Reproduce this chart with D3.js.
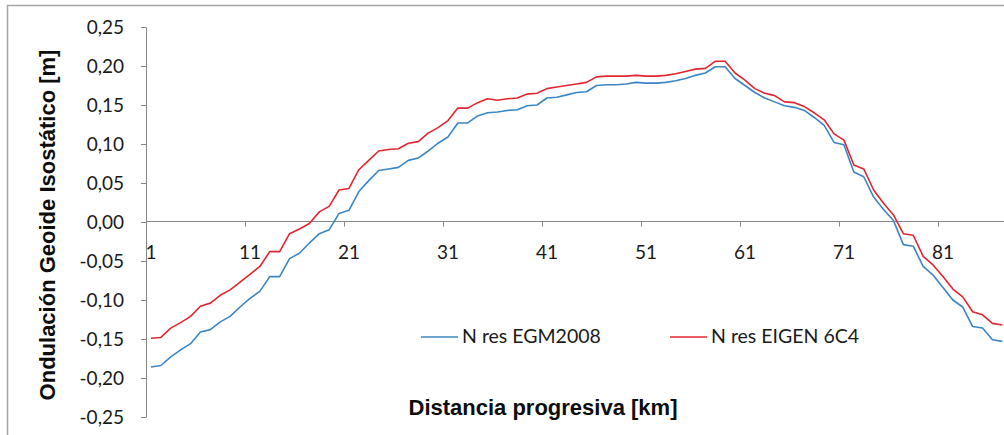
<!DOCTYPE html>
<html>
<head>
<meta charset="utf-8">
<script src="https://cdn.jsdelivr.net/npm/d3@7"></script>
<style>
  html, body { margin: 0; padding: 0; background: #fff; }
  svg { display: block; }
</style>
</head>
<body>
<svg id="chart" width="1004" height="435"></svg>
<script>
// ---- data ----
const categories = d3.range(1, 88); // distance km 1..87
const egm2008 = [
  -0.186, -0.184, -0.173, -0.164, -0.156, -0.141, -0.138, -0.128, -0.121, -0.109,
  -0.098, -0.089, -0.070, -0.070, -0.047, -0.040, -0.027, -0.015, -0.010, 0.011,
  0.015, 0.039, 0.053, 0.066, 0.068, 0.070, 0.079, 0.082, 0.091, 0.101,
  0.109, 0.127, 0.127, 0.136, 0.140, 0.141, 0.143, 0.144, 0.149, 0.150,
  0.159, 0.160, 0.163, 0.166, 0.167, 0.175, 0.176, 0.176, 0.177, 0.179,
  0.178, 0.178, 0.179, 0.181, 0.184, 0.188, 0.191, 0.199, 0.199, 0.184,
  0.175, 0.166, 0.159, 0.154, 0.149, 0.147, 0.143, 0.134, 0.124, 0.102,
  0.099, 0.064, 0.058, 0.032, 0.016, 0.002, -0.029, -0.031, -0.057, -0.068,
  -0.084, -0.100, -0.109, -0.134, -0.136, -0.151, -0.153
];
const eigen6c4 = [
  -0.149, -0.148, -0.136, -0.129, -0.121, -0.108, -0.104, -0.094, -0.087, -0.077,
  -0.067, -0.057, -0.038, -0.038, -0.015, -0.009, -0.002, 0.013, 0.020, 0.041,
  0.043, 0.067, 0.079, 0.091, 0.093, 0.094, 0.101, 0.103, 0.114, 0.121,
  0.130, 0.146, 0.146, 0.153, 0.158, 0.156, 0.158, 0.159, 0.164, 0.165,
  0.171, 0.173, 0.175, 0.177, 0.179, 0.186, 0.187, 0.187, 0.187, 0.188,
  0.187, 0.187, 0.188, 0.190, 0.193, 0.196, 0.197, 0.206, 0.206, 0.191,
  0.182, 0.171, 0.165, 0.162, 0.154, 0.153, 0.148, 0.140, 0.131, 0.113,
  0.105, 0.073, 0.068, 0.041, 0.024, 0.009, -0.015, -0.017, -0.044, -0.055,
  -0.070, -0.086, -0.096, -0.115, -0.119, -0.130, -0.132
];
const xTickLabels = ["1", "11", "21", "31", "41", "51", "61", "71", "81"];
const yTicks = [-0.25, -0.20, -0.15, -0.10, -0.05, 0, 0.05, 0.10, 0.15, 0.20, 0.25];
const seriesNames = ["N res EGM2008", "N res EIGEN 6C4"];
const seriesColors = ["#3b86c4", "#e2262f"];
const yTitle = "Ondulación Geoide Isostático [m]";
const xTitle = "Distancia progresiva [km]";

// ---- layout ----
const svg = d3.select("#chart");
const plotLeft = 146, plotTop = 27, plotBottom = 417;
const bandW = 9.9;

const x = d3.scaleBand()
  .domain(categories)
  .range([plotLeft, plotLeft + categories.length * bandW])
  .padding(0);
const y = d3.scaleLinear().domain([-0.25, 0.25]).range([plotBottom, plotTop]);

const fmt = v => d3.format(".2f")(v).replace(".", ",").replace("\u2212", "-");

// outer chart border
svg.append("rect")
  .attr("x", 7.5).attr("y", 5.5)
  .attr("width", 1010).attr("height", 440)
  .attr("fill", "none").attr("stroke", "#a6a6a6").attr("stroke-width", 1.5);

// y axis
const yAxis = d3.axisLeft(y).tickValues(yTicks).tickSize(5).tickSizeOuter(0).tickPadding(17).tickFormat(fmt);
const gy = svg.append("g").attr("transform", `translate(${plotLeft},0)`).call(yAxis);
gy.select(".domain").attr("stroke", "#868686");
gy.selectAll(".tick line").attr("stroke", "#868686");
gy.selectAll(".tick text")
  .attr("font-family", "Lato, 'Open Sans', sans-serif")
  .attr("font-size", "19px")
  .attr("fill", "#1a1a1a");

// x axis (crosses at y = 0)
const y0 = Math.round(y(0)) - 0.5;
const gx = svg.append("g");
gx.append("line")
  .attr("x1", plotLeft).attr("x2", x.range()[1])
  .attr("y1", y0).attr("y2", y0)
  .attr("stroke", "#868686");
const labelCats = categories.filter(c => xTickLabels.includes(String(c)));
gx.selectAll("line.tick").data(labelCats).join("line")
  .attr("class", "tick")
  .attr("x1", c => Math.round(x(c)) + 0.5).attr("x2", c => Math.round(x(c)) + 0.5)
  .attr("y1", y0).attr("y2", y0 + 5)
  .attr("stroke", "#868686");
gx.selectAll("text").data(labelCats).join("text")
  .attr("x", c => x(c) + x.bandwidth() / 2)
  .attr("y", y0 + 37)
  .attr("text-anchor", "middle")
  .attr("font-family", "Lato, 'Open Sans', sans-serif")
  .attr("font-size", "19px")
  .attr("fill", "#1a1a1a")
  .text(c => String(c));

// lines
const line = d3.line()
  .x((d, i) => x(categories[i]) + x.bandwidth() / 2)
  .y(d => y(d));
[egm2008, eigen6c4].forEach((s, k) => {
  svg.append("path")
    .datum(s)
    .attr("d", line)
    .attr("fill", "none")
    .attr("stroke", seriesColors[k])
    .attr("stroke-width", 1.6)
    .attr("stroke-linejoin", "round");
});

// legend
const legendX = [421, 670];
seriesNames.forEach((name, k) => {
  svg.append("line")
    .attr("x1", legendX[k]).attr("x2", legendX[k] + 37)
    .attr("y1", 337).attr("y2", 337)
    .attr("stroke", seriesColors[k]).attr("stroke-width", 1.6);
  svg.append("text")
    .attr("x", legendX[k] + 41).attr("y", 343)
    .attr("font-family", "Lato, 'Open Sans', sans-serif")
    .attr("font-size", "19.5px")
    .attr("fill", "#1a1a1a")
    .text(name);
});

// axis titles
svg.append("text")
  .attr("x", 543).attr("y", 415)
  .attr("text-anchor", "middle")
  .attr("font-family", "'Liberation Sans', Arial, sans-serif")
  .attr("font-weight", "bold")
  .attr("font-size", "22px")
  .attr("fill", "#0d0d0d")
  .text(xTitle);
svg.append("text")
  .attr("transform", "translate(55,225) rotate(-90)")
  .attr("text-anchor", "middle")
  .attr("font-family", "'Liberation Sans', Arial, sans-serif")
  .attr("font-weight", "bold")
  .attr("font-size", "22px")
  .attr("fill", "#0d0d0d")
  .text(yTitle);
</script>
</body>
</html>
